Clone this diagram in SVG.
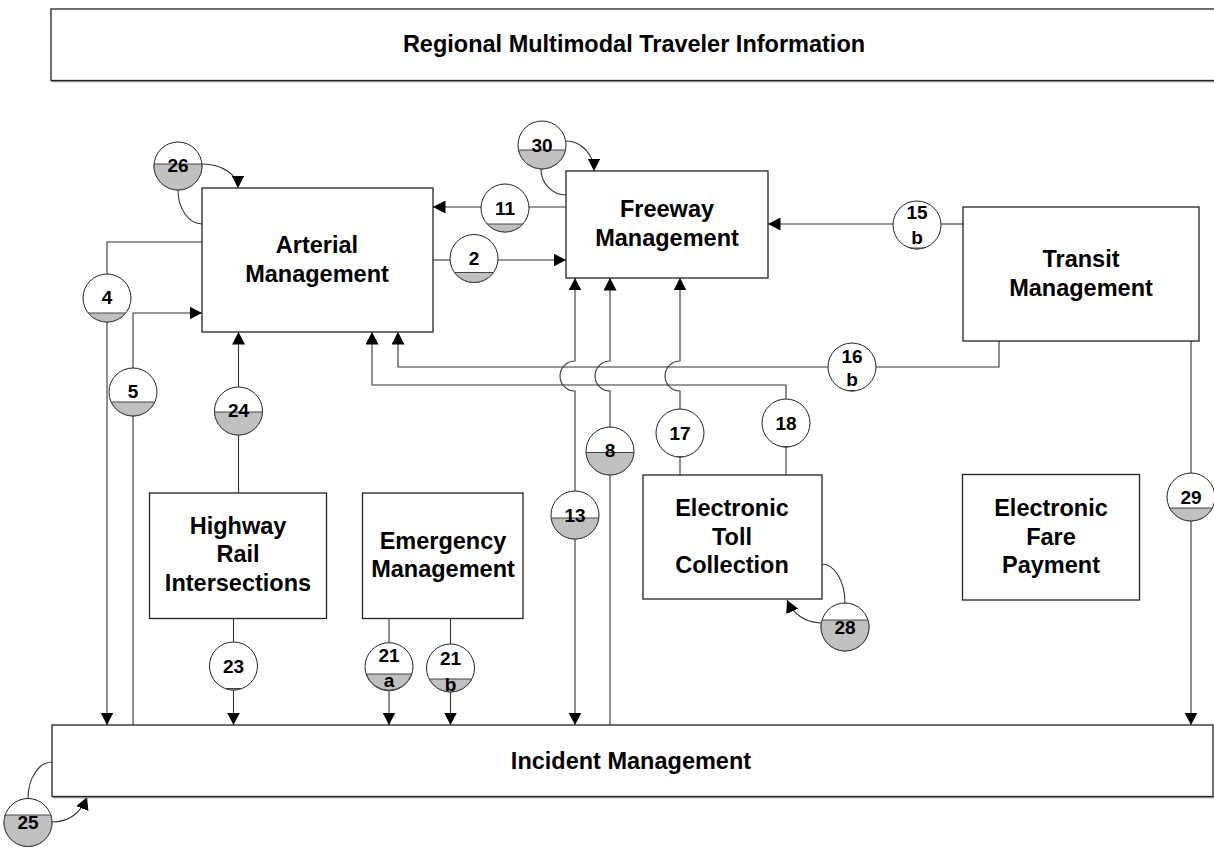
<svg xmlns="http://www.w3.org/2000/svg" width="1214" height="848" viewBox="0 0 1214 848">
<style>
.box{fill:#fff;stroke:#222;stroke-width:1.3}
.shadow{stroke:#888;stroke-width:1.2}
.lbl{font-family:"Liberation Sans",Arial,sans-serif;font-weight:bold;font-size:23.5px;text-anchor:middle;fill:#000}
.num{font-family:"Liberation Sans",Arial,sans-serif;font-weight:bold;font-size:19px;text-anchor:middle;fill:#000}
.bub{fill:#fff;stroke:#222;stroke-width:1}
.seg{fill:#c0c0c0;stroke:#444;stroke-width:1}
.yel{fill:#d8c800;stroke:#444;stroke-width:1}
.con{fill:none;stroke:#333;stroke-width:1.1}
</style>
<defs>
<marker id="arr" markerUnits="userSpaceOnUse" markerWidth="13" markerHeight="13" refX="12.5" refY="6.5" orient="auto">
<path d="M0,0 L12.5,6.5 L0,13 Z" fill="#000"/>
</marker>
</defs>
<rect width="1214" height="848" fill="#fff"/>

<g id="connectors">
<!-- 26 self loop -->
<path class="con" d="M202,164 A36,24 0 0 1 238,188" marker-end="url(#arr)"/>
<path class="con" d="M178,190 A24,34 0 0 0 202,224"/>
<!-- 4 -->
<path class="con" d="M202,242 L107,242 L107,274"/>
<path class="con" d="M107,322 L107,725" marker-end="url(#arr)"/>
<!-- 5 -->
<path class="con" d="M133,725 L133,416"/>
<path class="con" d="M133,368 L133,313 L202,313" marker-end="url(#arr)"/>
<!-- 24 -->
<path class="con" d="M238.5,493 L238.5,435"/>
<path class="con" d="M238.5,387 L238.5,332" marker-end="url(#arr)"/>
<!-- 23 -->
<path class="con" d="M233.5,618 L233.5,642"/>
<path class="con" d="M233.5,690 L233.5,725" marker-end="url(#arr)"/>
<!-- 21a -->
<path class="con" d="M389,618 L389,642.7"/>
<path class="con" d="M389,690.7 L389,725" marker-end="url(#arr)"/>
<!-- 21b -->
<path class="con" d="M450.5,618 L450.5,644"/>
<path class="con" d="M450.5,692 L450.5,725" marker-end="url(#arr)"/>
<!-- 25 self loop -->
<path class="con" d="M28,798.5 A24,36.5 0 0 1 52,762"/>
<path class="con" d="M52,822 Q77,822 87,797" marker-end="url(#arr)"/>
<!-- 11 -->
<path class="con" d="M566,207 L529,207"/>
<path class="con" d="M481,207 L433,207" marker-end="url(#arr)"/>
<!-- 2 -->
<path class="con" d="M433,260 L450,260"/>
<path class="con" d="M498,260 L566,260" marker-end="url(#arr)"/>
<!-- 30 self loop -->
<path class="con" d="M566,141 A28,30 0 0 1 594,171" marker-end="url(#arr)"/>
<path class="con" d="M541,169 A25,26 0 0 0 566,195"/>
<!-- 15b -->
<path class="con" d="M963,224 L941,224"/>
<path class="con" d="M893,224 L768,224" marker-end="url(#arr)"/>
<!-- 16b -->
<path class="con" d="M999,341 L999,367 L876,367"/>
<path class="con" d="M828,367 L398,367 L398,332" marker-end="url(#arr)"/>
<!-- 18 -->
<path class="con" d="M786,475 L786,447"/>
<path class="con" d="M786,399 L786,385 L372,385 L372,332" marker-end="url(#arr)"/>
<!-- 17 -->
<path class="con" d="M680,475 L680,457"/>
<path class="con" d="M680,409 L680,391 A15,15 0 0 1 680,361 L680,278" marker-end="url(#arr)"/>
<!-- 8 -->
<path class="con" d="M610,475 L610,725"/>
<path class="con" d="M610,427 L610,391 A15,15 0 0 1 610,361 L610,278" marker-end="url(#arr)"/>
<!-- 13 -->
<path class="con" d="M575,491 L575,391 A15,15 0 0 1 575,361 L575,278" marker-end="url(#arr)"/>
<path class="con" d="M575,539 L575,725" marker-end="url(#arr)"/>
<!-- 28 self loop -->
<path class="con" d="M845,603 A23,39 0 0 0 822,564"/>
<path class="con" d="M821,623 Q797,622 787,600" marker-end="url(#arr)"/>
<!-- 29 -->
<path class="con" d="M1191,341 L1191,473"/>
<path class="con" d="M1191,521 L1191,725" marker-end="url(#arr)"/>
</g>

<g id="node-rmti">
<rect class="box" x="51" y="9" width="1175" height="71.5"/>
<line class="shadow" x1="52" y1="81.6" x2="1214" y2="81.6"/>
<text class="lbl" x="634" y="52">Regional Multimodal Traveler Information</text>
</g>
<g id="node-arterial">
<rect class="box" x="202" y="188" width="231" height="144"/>
<text class="lbl" x="317" y="253">Arterial</text>
<text class="lbl" x="317" y="282">Management</text>
</g>
<g id="node-freeway">
<rect class="box" x="566" y="171" width="202" height="107"/>
<text class="lbl" x="667" y="216.5">Freeway</text>
<text class="lbl" x="667" y="245.5">Management</text>
</g>
<g id="node-transit">
<rect class="box" x="963" y="207" width="236" height="134"/>
<text class="lbl" x="1081" y="267">Transit</text>
<text class="lbl" x="1081" y="295.5">Management</text>
</g>
<g id="node-etc">
<rect class="box" x="643" y="475" width="179" height="124"/>
<text class="lbl" x="732" y="516">Electronic</text>
<text class="lbl" x="732" y="544.5">Toll</text>
<text class="lbl" x="732" y="573">Collection</text>
</g>
<g id="node-hri">
<rect class="box" x="149.5" y="493" width="177" height="125.5"/>
<text class="lbl" x="238" y="533.5">Highway</text>
<text class="lbl" x="238" y="562">Rail</text>
<text class="lbl" x="238" y="590.5">Intersections</text>
</g>
<g id="node-emergency">
<rect class="box" x="362.5" y="493" width="160.5" height="125.5"/>
<text class="lbl" x="443" y="548.5">Emergency</text>
<text class="lbl" x="443" y="577">Management</text>
</g>
<g id="node-efp">
<rect class="box" x="962.5" y="474.5" width="177" height="125.5"/>
<text class="lbl" x="1051" y="516">Electronic</text>
<text class="lbl" x="1051" y="545">Fare</text>
<text class="lbl" x="1051" y="573">Payment</text>
</g>
<g id="node-incident">
<rect class="box" x="52" y="725" width="1161" height="71.5"/>
<line class="shadow" x1="53" y1="797.6" x2="1214" y2="797.6"/>
<text class="lbl" x="631" y="768.5">Incident Management</text>
</g>

<g id="flow-26"><circle class="bub" cx="178" cy="166" r="24"/><path class="seg" d="M154.08,164 A24,24 0 1 0 201.92,164 Z"/><text class="num" x="178" y="171.5">26</text></g>
<g id="flow-4"><circle class="bub" cx="107" cy="298" r="24"/><path class="seg" d="M88.27,313 A24,24 0 0 0 125.73,313 Z"/><text class="num" x="107" y="304">4</text></g>
<g id="flow-5"><circle class="bub" cx="133" cy="392" r="24"/><path class="seg" d="M111.18,402 A24,24 0 0 0 154.82,402 Z"/><text class="num" x="133" y="398">5</text></g>
<g id="flow-24"><circle class="bub" cx="238.5" cy="411" r="24"/><path class="seg" d="M214.52,412 A24,24 0 0 0 262.48,412 Z"/><text class="num" x="238.5" y="416.5">24</text></g>
<g id="flow-23"><circle class="bub" cx="233.5" cy="666" r="24"/><path class="seg" d="M225.15,688.5 A24,24 0 0 0 241.85,688.5 Z"/><text class="num" x="233.5" y="672.5">23</text></g>
<g id="flow-21a"><circle class="bub" cx="389" cy="666.7" r="24"/><path class="seg" d="M366.3,674 A24,24 0 0 0 411.7,674 Z"/><text class="num" x="389" y="661.5">21</text><text class="num" x="389" y="687">a</text></g>
<g id="flow-21b"><circle class="bub" cx="450.5" cy="668" r="24"/><path class="seg" d="M429.17,679 A24,24 0 0 0 471.83,679 Z"/><text class="num" x="450.5" y="665">21</text><text class="num" x="450.5" y="690.5">b</text></g>
<g id="flow-25"><circle class="bub" cx="28" cy="822.5" r="24"/><path class="seg" d="M5.2,815 A24,24 0 1 0 50.8,815 Z"/><text class="num" x="28" y="829">25</text></g>
<g id="flow-11"><circle class="bub" cx="505" cy="208" r="24"/><path class="seg" d="M487.11,224 A24,24 0 0 0 522.89,224 Z"/><text class="num" x="505" y="215">11</text></g>
<g id="flow-2"><circle class="bub" cx="474" cy="258.5" r="24"/><path class="seg" d="M454.51,272.5 A24,24 0 0 0 493.49,272.5 Z"/><text class="num" x="474" y="264.5">2</text></g>
<g id="flow-30"><circle class="bub" cx="542" cy="145" r="24"/><path class="seg" d="M518.53,150 A24,24 0 0 0 565.47,150 Z"/><text class="num" x="542" y="151.5">30</text></g>
<g id="flow-15b"><circle class="bub" cx="917" cy="225" r="24"/><path class="seg" d="M910.14,248 A24,24 0 0 0 923.86,248 Z"/><text class="num" x="917" y="219.3">15</text><text class="num" x="917" y="244">b</text></g>
<g id="flow-16b"><circle class="bub" cx="852" cy="367" r="24"/><path class="seg" d="M847.13,390.5 A24,24 0 0 0 856.87,390.5 Z"/><text class="num" x="852" y="362.5">16</text><text class="num" x="852" y="386">b</text></g>
<g id="flow-18"><circle class="bub" cx="786" cy="423" r="24"/><path class="yel" d="M781.13,446.5 A24,24 0 0 0 790.87,446.5 Z"/><text class="num" x="786" y="430">18</text></g>
<g id="flow-17"><circle class="bub" cx="680" cy="433" r="24"/><path class="seg" d="M675.13,456.5 A24,24 0 0 0 684.87,456.5 Z"/><text class="num" x="680" y="440">17</text></g>
<g id="flow-8"><circle class="bub" cx="610" cy="451" r="24"/><path class="seg" d="M586.05,452.5 A24,24 0 0 0 633.95,452.5 Z"/><text class="num" x="610" y="456.5">8</text></g>
<g id="flow-13"><circle class="bub" cx="575" cy="515" r="24"/><path class="seg" d="M551.19,518 A24,24 0 0 0 598.81,518 Z"/><text class="num" x="575" y="521.5">13</text></g>
<g id="flow-28"><circle class="bub" cx="845" cy="627" r="24"/><path class="seg" d="M822.04,620 A24,24 0 1 0 867.96,620 Z"/><text class="num" x="845" y="633.5">28</text></g>
<g id="flow-29"><circle class="bub" cx="1191" cy="497" r="24"/><path class="seg" d="M1169.67,508 A24,24 0 0 0 1212.33,508 Z"/><text class="num" x="1191" y="504">29</text></g>
</svg>
